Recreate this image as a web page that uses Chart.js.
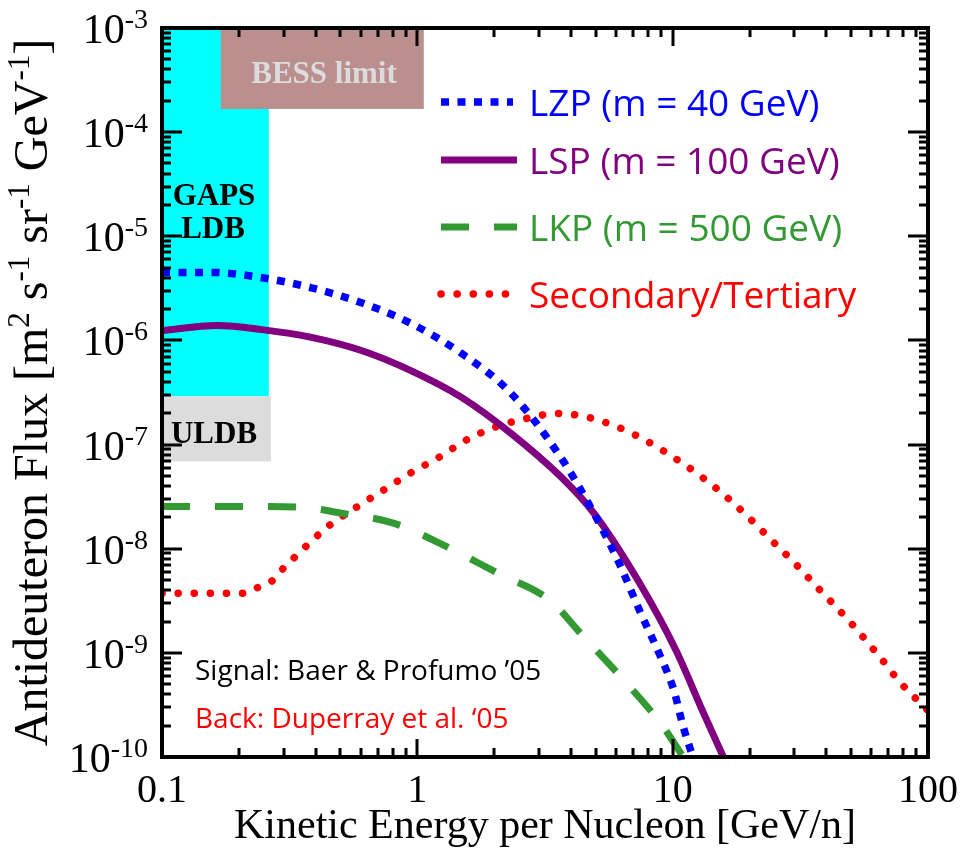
<!DOCTYPE html>
<html>
<head>
<meta charset="utf-8">
<script src="https://cdn.jsdelivr.net/npm/chart.js@4.4.1/dist/chart.umd.min.js"></script>
<style>
body{margin:0;background:#fff}
</style>
</head>
<body>
<canvas id="my-chart" width="967" height="850"></canvas>
<script>
// kinetic energy per nucleon (GeV/n) and flux
var lzp_x = [0.1,0.157,0.246,0.385,0.604,0.948,1.49,2.33,3.65,4.91,6.09,7.5,8.98,10.1,11.0,12.0]
var lzp_y = [4.5e-6,4.5e-6,4.0e-6,3.2e-6,2.3e-6,1.45e-6,7.5e-7,3.1e-7,7.5e-8,2.2e-8,7.8e-9,2.4e-9,9.1e-10,4.4e-10,1.95e-10,1.0e-10]

var lsp_x = [0.1,0.164,0.246,0.385,0.604,0.948,1.49,2.33,3.65,4.91,7.3,10.3,13.2,15.8]
var lsp_y = [1.24e-6,1.39e-6,1.27e-6,1.07e-6,8.0e-7,5.1e-7,2.84e-7,1.28e-7,4.9e-8,2.2e-8,5.0e-9,1.06e-9,2.65e-10,1.0e-10]

var lkp_x = [0.1,0.211,0.352,0.505,0.812,1.32,2.07,3.3,4.49,6.42,8.95,11.0]
var lkp_y = [2.55e-8,2.55e-8,2.5e-8,2.19e-8,1.75e-8,1.03e-8,5.8e-9,3.2e-9,1.42e-9,5.5e-10,2.12e-10,1.0e-10]

var sec_x = [0.1,0.209,0.239,0.269,0.299,0.331,0.453,0.577,0.736,0.937,1.21,1.55,2.0,2.67,3.53,4.69,6.15,7.98,10.2,12.9,16.3,20,24.6,30,36.8,49.6,65.3,78.4,100]
var sec_y = [3.74e-9,3.74e-9,4.28e-9,4.88e-9,6.5e-9,8.3e-9,1.68e-8,2.5e-8,3.64e-8,5.3e-8,7.5e-8,1.1e-7,1.46e-7,1.78e-7,1.99e-7,1.82e-7,1.46e-7,1.07e-7,7.4e-8,4.96e-8,3.12e-8,1.96e-8,1.18e-8,7.3e-9,4.28e-9,1.97e-9,8.9e-10,5.1e-10,2.8e-10]

var labels = ['LZP (m = 40 GeV)','LSP (m = 100 GeV)','LKP (m = 500 GeV)','Secondary/Tertiary']

// sensitivity regions [xmin, xmax, ymin, ymax]
var gaps_ldb = [0.1, 0.262, 2.9e-7, 1e-3]
var gaps_uldb = [0.1, 0.267, 6.9e-8, 2.9e-7]
var bess_limit = [0.17, 1.06, 1.67e-4, 1e-3]

// axis ticks
var x_ticks = [0.1, 1, 10, 100]
var x_tick_labels = ['0.1', '1', '10', '100']
var y_tick_exps = [-10, -9, -8, -7, -6, -5, -4, -3]

function pts(xs, ys){
    var out = []
    for (var i = 0; i < xs.length; i++) out.push({x: xs[i], y: ys[i]})
    return out
}

var serif = '"Liberation Serif", "Times New Roman", serif'
var sans = '"Open Sans", sans-serif'

function drawSup(ctx, parts, x, y, big, small, rise){
    // parts: [text, isSup]
    for (var i = 0; i < parts.length; i++){
        ctx.font = (parts[i][1] ? small : big) + 'px ' + serif
        ctx.fillText(parts[i][0], x, parts[i][1] ? y - rise : y)
        x += ctx.measureText(parts[i][0]).width
    }
    return x
}
function supWidth(ctx, parts, big, small){
    var w = 0
    for (var i = 0; i < parts.length; i++){
        ctx.font = (parts[i][1] ? small : big) + 'px ' + serif
        w += ctx.measureText(parts[i][0]).width
    }
    return w
}

var overlay = {
    id: 'overlay',
    beforeDatasetsDraw: function(chart){
        var ctx = chart.ctx, sx = chart.scales.x, sy = chart.scales.y
        function box(b, color){
            var x0 = sx.getPixelForValue(b[0]), x1 = sx.getPixelForValue(b[1])
            var y0 = sy.getPixelForValue(b[3]), y1 = sy.getPixelForValue(b[2])
            ctx.fillStyle = color
            ctx.fillRect(x0, y0, x1 - x0, y1 - y0)
        }
        ctx.save()
        box(gaps_ldb, '#00ffff')
        box(gaps_uldb, '#dcdcdc')
        box(bess_limit, '#bc8f8f')

        ctx.textAlign = 'center'
        ctx.textBaseline = 'alphabetic'
        ctx.font = 'bold 31px ' + serif
        ctx.fillStyle = '#000'
        ctx.fillText('GAPS', 214, 205)
        ctx.fillText('LDB', 213, 238)
        ctx.fillText('ULDB', 214, 443)
        ctx.fillStyle = '#dcdcdc'
        ctx.fillText('BESS limit', 324, 83)
        ctx.restore()
    },
    afterDraw: function(chart){
        var ctx = chart.ctx, sx = chart.scales.x, sy = chart.scales.y
        var a = chart.chartArea
        ctx.save()

        // ticks, pointing inwards on all four sides
        ctx.strokeStyle = '#000'
        ctx.lineWidth = 3
        ctx.beginPath()
        for (var d = 0; d < x_ticks.length; d++){
            var v = x_ticks[d]
            for (var k = 1; k < 10; k++){
                if (k > 1 && d == x_ticks.length - 1) break
                var len = k == 1 ? 18 : 9
                var px = Math.round(sx.getPixelForValue(v * k))
                ctx.moveTo(px, a.bottom); ctx.lineTo(px, a.bottom - len)
                ctx.moveTo(px, a.top); ctx.lineTo(px, a.top + len)
            }
        }
        for (var e = 0; e < y_tick_exps.length; e++){
            var base = Math.pow(10, y_tick_exps[e])
            for (var k = 1; k < 10; k++){
                if (k > 1 && e == y_tick_exps.length - 1) break
                var len = k == 1 ? 20 : 9
                var py = Math.round(sy.getPixelForValue(base * k))
                ctx.moveTo(a.left, py); ctx.lineTo(a.left + len, py)
                ctx.moveTo(a.right, py); ctx.lineTo(a.right - len, py)
            }
        }
        ctx.stroke()

        // frame
        ctx.lineWidth = 4
        ctx.strokeRect(a.left, a.top, a.right - a.left, a.bottom - a.top)

        // tick labels
        ctx.fillStyle = '#000'
        ctx.textBaseline = 'alphabetic'
        ctx.textAlign = 'center'
        ctx.font = '40px ' + serif
        for (var i = 0; i < x_ticks.length; i++){
            ctx.fillText(x_tick_labels[i], sx.getPixelForValue(x_ticks[i]), 802)
        }
        ctx.textAlign = 'left'
        for (var i = 0; i < y_tick_exps.length; i++){
            var py = sy.getPixelForValue(Math.pow(10, y_tick_exps[i]))
            var parts = [['10', false], [String(y_tick_exps[i]), true]]
            var w = supWidth(ctx, parts, 42, 28)
            drawSup(ctx, parts, 148 - w, py + 15, 42, 28, 15)
        }

        // axis titles
        ctx.textAlign = 'center'
        ctx.font = '42px ' + serif
        ctx.fillText('Kinetic Energy per Nucleon [GeV/n]', (a.left + a.right) / 2, 838)

        ctx.save()
        var title = [['Antideuteron Flux [m', false], ['2', true], [' s', false], ['-1', true],
                     [' sr', false], ['-1', true], [' GeV', false], ['-1', true], [']', false]]
        ctx.textAlign = 'left'
        ctx.translate(47, (a.top + a.bottom) / 2)
        ctx.rotate(-Math.PI / 2)
        var tw = supWidth(ctx, title, 48, 31)
        drawSup(ctx, title, -tw / 2, 0, 48, 31, 18)
        ctx.restore()

        // legend
        var rows = [102, 160, 227, 294]
        chart.data.datasets.forEach(function(ds, i){
            ctx.save()
            ctx.strokeStyle = ds.borderColor
            ctx.lineWidth = ds.borderWidth
            ctx.setLineDash(ds.borderDash || [])
            ctx.lineCap = ds.borderCapStyle || 'butt'
            ctx.beginPath()
            ctx.moveTo(441, rows[i])
            ctx.lineTo(i == 3 ? 507 : (i == 0 ? 513 : 517), rows[i])
            ctx.stroke()
            ctx.restore()
            ctx.fillStyle = ds.borderColor
            ctx.textAlign = 'left'
            ctx.font = '37px ' + sans
            ctx.fillText(ds.label, 529, rows[i] + 14)
        })

        // references
        ctx.font = '28px ' + sans
        ctx.fillStyle = '#000'
        ctx.fillText('Signal: Baer & Profumo \u201905', 195, 680)
        ctx.fillStyle = '#ff0000'
        ctx.fillText('Back: Duperray et al. \u201805', 195, 728)
        ctx.restore()
    }
}

var ctx = document.getElementById('my-chart').getContext('2d')

var chart = new Chart(ctx, {
    type: 'line',
    data: {
        datasets: [
            {
                label: labels[0],
                data: pts(lzp_x, lzp_y),
                borderColor: '#0000ff',
                borderWidth: 7.5,
                borderDash: [8, 8.5]
            },
            {
                label: labels[1],
                data: pts(lsp_x, lsp_y),
                borderColor: '#800080',
                borderWidth: 7
            },
            {
                label: labels[2],
                data: pts(lkp_x, lkp_y),
                borderColor: '#339933',
                borderWidth: 7,
                borderDash: [28, 25]
            },
            {
                label: labels[3],
                data: pts(sec_x, sec_y),
                borderColor: '#ff0000',
                borderWidth: 7.5,
                borderDash: [0.1, 16],
                borderCapStyle: 'round'
            }
        ]
    },
    options: {
        responsive: false,
        animation: false,
        devicePixelRatio: 1,
        layout: {padding: {left: 162, top: 28, right: 39, bottom: 93}},
        elements: {
            point: {radius: 0},
            line: {cubicInterpolationMode: 'monotone', fill: false}
        },
        plugins: {legend: {display: false}, tooltip: {enabled: false}},
        scales: {
            x: {type: 'logarithmic', min: 0.1, max: 100, display: false},
            y: {type: 'logarithmic', min: 1e-10, max: 1e-3, display: false}
        }
    },
    plugins: [overlay]
})
</script>
</body>
</html>
